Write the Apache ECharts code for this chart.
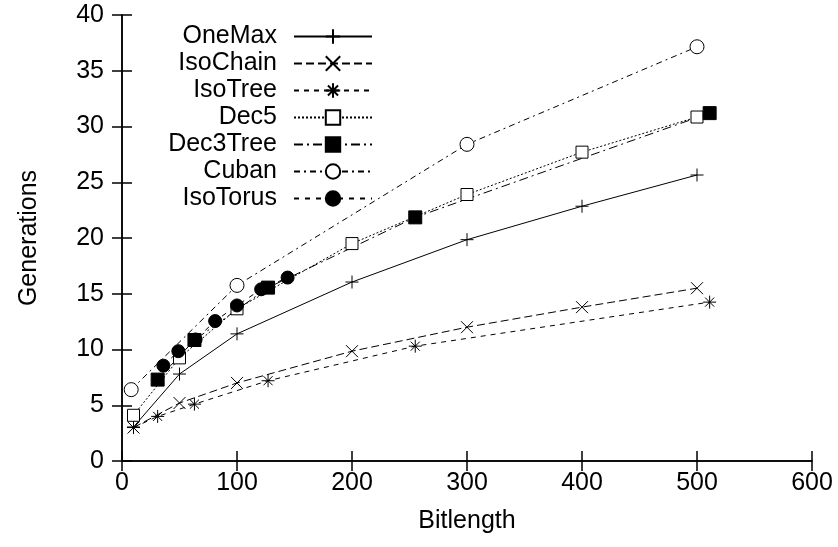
<!DOCTYPE html>
<html>
<head>
<meta charset="utf-8">
<script src="https://cdn.jsdelivr.net/npm/echarts@6/dist/echarts.min.js"></script>
<style>
  html, body { margin: 0; padding: 0; background: #fff; }
  #main { width: 838px; height: 547px; }
</style>
</head>
<body>
<div id="main"></div>
<script>
var oneMaxX = [10, 50, 100, 200, 300, 400, 500];
var oneMaxY = [3.05, 7.8, 11.4, 16.05, 19.85, 22.85, 25.65];
var isoChainX = [10, 50, 100, 200, 300, 400, 500];
var isoChainY = [3.0, 5.2, 7.0, 9.85, 12.0, 13.8, 15.5];
var isoTreeX = [10, 31, 63, 127, 255, 511];
var isoTreeY = [3.0, 4.0, 5.1, 7.2, 10.3, 14.25];
var dec5X = [10, 50, 100, 200, 300, 400, 500];
var dec5Y = [4.1, 9.25, 13.65, 19.5, 23.9, 27.7, 30.85];
var dec3TreeX = [31, 63, 127, 255, 511];
var dec3TreeY = [7.3, 10.85, 15.55, 21.85, 31.2];
var cubanX = [8, 100, 300, 500];
var cubanY = [6.4, 15.75, 28.4, 37.15];
var isoTorusX = [36, 49, 64, 81, 100, 121, 144];
var isoTorusY = [8.55, 9.85, 10.9, 12.55, 13.95, 15.4, 16.45];

var font = "'Liberation Sans', Arial, sans-serif";
var plus = 'path://M0,5L10,5M5,0L5,10';
var cross = 'path://M0,0L10,10M10,0L0,10';
var star = 'path://M0,5L10,5M5,0L5,10M1.5,1.5L8.5,8.5M8.5,1.5L1.5,8.5';

function pairs(xs, ys) {
  return xs.map(function (x, i) { return [x, ys[i]]; });
}

function line(name, xs, ys, dash, symbol, size, fill) {
  return {
    name: name,
    type: 'line',
    data: pairs(xs, ys),
    symbol: symbol,
    symbolSize: size,
    showAllSymbol: true,
    animation: false,
    lineStyle: { color: '#000', width: 1, type: dash },
    itemStyle: { color: fill, borderColor: '#000', borderWidth: 1 }
  };
}

var chart = echarts.init(document.getElementById('main'));

var axisCommon = {
  type: 'value',
  axisLine: { show: true, lineStyle: { color: '#000', width: 1.5 } },
  axisTick: { show: true, inside: true, length: 10, lineStyle: { color: '#000', width: 1.5 } },
  splitLine: { show: false }
};

chart.setOption({
  backgroundColor: '#fff',
  grid: { left: 122, right: 26, top: 15, bottom: 86 },
  legend: {
    orient: 'vertical',
    left: 132,
    top: 18,
    align: 'right',
    itemWidth: 78,
    itemHeight: 18,
    itemGap: 0,
    textStyle: {
      fontFamily: font, fontSize: 25, color: '#000',
      width: 140, align: 'right', lineHeight: 27, padding: [0, 12, 0, 0]
    },
    data: ['OneMax', 'IsoChain', 'IsoTree', 'Dec5', 'Dec3Tree', 'Cuban', 'IsoTorus']
  },
  xAxis: [
    Object.assign({}, axisCommon, {
      min: 0, max: 600, interval: 100,
      name: 'Bitlength', nameLocation: 'middle', nameGap: 48,
      nameTextStyle: { fontFamily: font, fontSize: 25, color: '#000' },
      axisLabel: { fontFamily: font, fontSize: 25, color: '#000', margin: 10 }
    }),
    Object.assign({}, axisCommon, {
      position: 'top', min: 0, max: 600, interval: 100,
      axisLabel: { show: false }
    })
  ],
  yAxis: [
    Object.assign({}, axisCommon, {
      min: 0, max: 40, interval: 5,
      name: 'Generations', nameLocation: 'middle', nameGap: 80,
      nameTextStyle: { fontFamily: font, fontSize: 25, color: '#000' },
      axisLabel: { fontFamily: font, fontSize: 25, color: '#000', margin: 18 }
    }),
    Object.assign({}, axisCommon, {
      position: 'right', min: 0, max: 40, interval: 5,
      axisLabel: { show: false }
    })
  ],
  series: [
    line('OneMax', oneMaxX, oneMaxY, 'solid', plus, 13, '#000'),
    line('IsoChain', isoChainX, isoChainY, [8, 4], cross, 12, '#000'),
    line('IsoTree', isoTreeX, isoTreeY, [5, 5], star, 13, '#000'),
    line('Dec5', dec5X, dec5Y, [2, 2], 'rect', 12, '#fff'),
    line('Dec3Tree', dec3TreeX, dec3TreeY, [9, 4, 2, 4], 'rect', 13, '#000'),
    line('Cuban', cubanX, cubanY, [6, 4, 2, 4], 'circle', 14, '#fff'),
    line('IsoTorus', isoTorusX, isoTorusY, [5, 6], 'circle', 13, '#000')
  ]
});
</script>
</body>
</html>
